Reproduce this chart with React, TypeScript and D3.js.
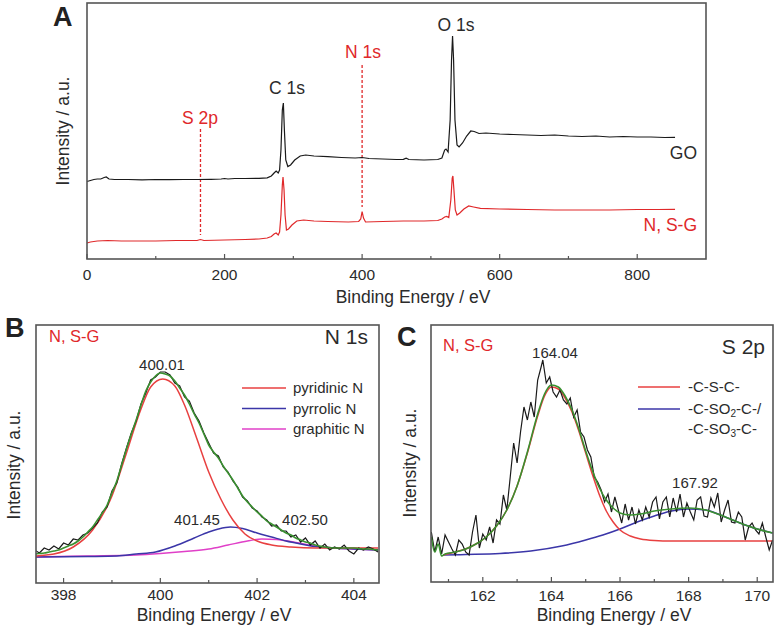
import * as d3 from "d3";

// ---------- Panel A: survey spectra ----------
const goEnergy = [0, 5, 10, 15, 20, 25, 28, 32, 40, 60, 80, 100, 120, 140, 160, 180, 195, 200, 205, 215, 230, 250, 262, 268, 272, 275, 278, 280, 282, 284, 285.5, 287, 289, 292, 296, 302, 310, 318, 330, 350, 370, 390, 400, 410, 430, 450, 460, 464, 468, 490, 510, 516, 520, 522, 525, 528, 530, 531.5, 533, 535, 538, 541, 546, 552, 558, 563, 570, 580, 600, 620, 640, 660, 680, 700, 720, 740, 760, 780, 800, 820, 840, 855];
const goCounts = [77.5, 78.5, 79.5, 80, 80, 81.5, 82, 80, 79.5, 79.5, 79.2, 79.5, 79.4, 79.5, 79.5, 79.7, 80, 80.5, 80, 80.5, 80.5, 80.7, 81.2, 83, 86, 88, 86, 89, 109, 149, 156, 129, 99, 92.5, 94, 99, 103, 104, 103, 102.3, 101.5, 101, 101.5, 100.5, 100, 99.5, 99.6, 100.8, 99.5, 99, 99.5, 101, 109, 110, 107, 139, 199, 223, 199, 139, 114, 112, 116, 123, 128, 127.5, 125.5, 126, 125, 124.5, 124, 123.5, 124, 123, 122.5, 123, 122, 122.5, 122, 122, 121.5, 121.7];

const nsgEnergy = [0, 5, 15, 30, 50, 80, 100, 130, 160, 165, 170, 200, 230, 250, 262, 268, 272, 275, 278, 280, 282, 284, 285, 286.5, 288, 290, 293, 298, 305, 315, 330, 350, 380, 395, 398, 400, 402, 405, 430, 460, 490, 510, 516, 520, 523, 526, 529, 531, 532, 533.5, 535.5, 538, 542, 548, 555, 562, 572, 600, 640, 680, 720, 760, 800, 830, 855];
const nsgCounts = [16, 17, 18, 18.5, 18, 18, 18, 18.5, 18.5, 19.5, 18.5, 19, 19.5, 20, 21, 22.5, 25, 26, 24, 27, 44, 74, 82, 69, 44, 29, 30, 34, 38, 39, 38, 37.5, 37, 37.5, 40, 47.5, 41, 37, 37.5, 38, 38, 38.5, 40, 42, 42.5, 41.5, 59, 81, 83, 69, 49, 44, 46, 50, 53, 52, 50.7, 50, 49.5, 49, 49, 49, 49.5, 49.5, 49.7];

const surveyTicks = [0, 200, 400, 600, 800];
const surveyMinor = [100, 300, 500, 700];

// ---------- Panel B: N 1s ----------
const n1sEnergy = d3.range(0, 72).map((i) => +(397.4 + i * 0.1).toFixed(1));
const n1sData = [33, 30, 35, 33, 37, 34, 40, 38, 44, 43, 48, 50, 55, 60, 71, 76, 92, 100, 119, 135, 150, 162, 179, 190, 203, 206, 211, 211, 208, 200, 197, 186, 182, 170, 162, 150, 140, 130, 127, 116, 111, 102, 96, 86, 82, 75, 72, 66, 63, 57, 58, 52, 52, 46, 48, 41, 45, 38, 42, 35, 39, 33, 36, 34, 38, 32, 29, 35, 33, 36, 34, 31];
const n1sEnvelope = [29, 29.5, 30, 31, 32, 33, 35, 37, 39, 42, 46, 51, 56, 63, 70, 78, 90, 102, 118, 134, 149, 163, 178, 192, 201, 207, 210, 209, 207, 202, 195, 188, 179, 169, 160, 149, 138, 131, 125, 117, 110, 103, 95, 87, 81, 76, 71, 67, 62, 59, 56, 53, 50, 48, 45, 43, 41, 40, 38, 37, 36, 35.5, 35, 35, 35, 35, 35, 34.5, 34, 34, 33.5, 33];

const pyridinicEnergy = [397.4, 397.8, 398.2, 398.6, 399.0, 399.3, 399.6, 399.8, 400.05, 400.3, 400.5, 400.75, 401.0, 401.25, 401.5, 401.75, 402.0, 402.3, 402.7, 403.2, 403.7, 404.5];
const pyridinicFit = [27, 29, 36, 53, 87, 130, 174, 196, 204, 197, 178, 145, 111, 84, 63, 49, 42, 38, 36, 35, 35, 35];
const pyrrolicEnergy = [397.4, 398.5, 399.1, 399.5, 399.9, 400.3, 400.7, 401.0, 401.2, 401.45, 401.7, 402.0, 402.3, 402.6, 402.9, 403.2, 403.6, 404.0, 404.5];
const pyrrolicFit = [26, 26.5, 27, 29, 31, 37, 45, 51, 54, 56, 54.5, 50, 46, 42, 39, 36.5, 35, 34, 33];
const graphiticEnergy = [397.4, 398.5, 399.5, 400.0, 400.5, 401.0, 401.4, 401.8, 402.1, 402.4, 402.8, 403.2, 403.6, 404.0, 404.5];
const graphiticFit = [26, 27, 28, 29.5, 31.5, 34, 38, 42, 44, 43.5, 40.5, 37, 35, 34, 33];

const n1sTicks = [398, 400, 402, 404];
const n1sMinor = [399, 401, 403];

// ---------- Panel C: S 2p ----------
const s2pEnergy = [160.5, 160.6, 160.7, 160.8, 160.9, 161.0, 161.1, 161.2, 161.3, 161.4, 161.5, 161.6, 161.7, 161.8, 161.9, 162.0, 162.1, 162.2, 162.3, 162.4, 162.5, 162.6, 162.7, 162.8, 162.9, 163.0, 163.1, 163.2, 163.3, 163.4, 163.5, 163.6, 163.7, 163.75, 163.85, 163.95, 164.05, 164.15, 164.25, 164.35, 164.45, 164.55, 164.65, 164.75, 164.85, 164.95, 165.05, 165.15, 165.25, 165.35, 165.45, 165.55, 165.65, 165.75, 165.85, 165.95, 166.05, 166.15, 166.25, 166.35, 166.45, 166.55, 166.65, 166.75, 166.85, 166.95, 167.05, 167.15, 167.25, 167.35, 167.45, 167.55, 167.65, 167.75, 167.85, 167.95, 168.05, 168.15, 168.25, 168.35, 168.45, 168.55, 168.65, 168.75, 168.85, 168.95, 169.05, 169.15, 169.25, 169.35, 169.45, 169.55, 169.65, 169.75, 169.85, 169.95, 170.05, 170.15, 170.25, 170.35, 170.45];
const s2pData = [50, 30, 45, 28, 47, 40, 33, 27, 42, 38, 30, 27, 50, 67, 34, 48, 42, 55, 39, 62, 58, 87, 72, 105, 139, 119, 150, 175, 162, 180, 165, 202, 215, 222, 199, 205, 190, 185, 192, 182, 178, 184, 165, 172, 150, 145, 132, 125, 105, 100, 92, 80, 88, 70, 85, 72, 59, 78, 62, 75, 58, 72, 62, 75, 65, 80, 85, 63, 80, 85, 65, 84, 70, 88, 65, 79, 70, 62, 82, 85, 66, 65, 84, 75, 89, 60, 72, 82, 60, 59, 70, 65, 42, 55, 59, 52, 48, 59, 45, 32, 42];

const s2pEnvEnergy = [160.5, 160.6, 160.7, 160.8, 160.9, 161.2, 161.5, 161.8, 162.1, 162.4, 162.7, 163.0, 163.3, 163.6, 163.8, 164.0, 164.2, 164.4, 164.6, 164.8, 165.0, 165.2, 165.4, 165.6, 165.8, 166.0, 166.3, 166.6, 167.0, 167.5, 168.0, 168.5, 169.0, 169.5, 170.0, 170.45];
const s2pEnvelope = [45, 30, 38, 26, 28, 30, 33, 38, 45, 56, 72, 96, 130, 168, 188, 197, 195, 186, 172, 153, 131, 111, 94, 82, 74, 69, 67, 68, 71, 73, 74, 72, 66, 59, 53, 49];

const cscEnergy = [160.85, 161.2, 161.5, 161.8, 162.1, 162.4, 162.7, 163.0, 163.3, 163.6, 163.8, 164.0, 164.2, 164.4, 164.6, 164.8, 165.0, 165.2, 165.4, 165.6, 165.8, 166.0, 166.3, 166.6, 167.0, 167.5, 168.5, 170.45];
const cscFit = [27, 30, 33, 38, 45, 56, 72, 96, 129, 166, 186, 195, 193, 184, 170, 151, 129, 107, 87, 71, 60, 52, 46, 43, 41.5, 41, 41, 41];
const csoEnergy = [160.85, 161.5, 162.5, 163.4, 164.3, 165.0, 165.5, 166.0, 166.5, 167.0, 167.5, 168.0, 168.5, 169.0, 169.5, 170.0, 170.45];
const csoFit = [27, 27.5, 28.5, 31, 36, 42, 47, 53, 60, 66, 71, 73, 72, 66, 59, 53, 49];

const s2pTicks = [162, 164, 166, 168, 170];
const s2pMinor = [161, 163, 165, 167, 169];

// ---------- styling ----------
const FONT = "'Liberation Sans', Arial, Helvetica, sans-serif";
const FRAME = "#555";
const TEXT = "#2b2b2b";
const RED = "#e0282a";
const GREEN = "#3a9030";
const BLUE = "#3b36a8";
const MAGENTA = "#e040c8";
const FIT_RED = "#e84040";

type Box = { left: number; top: number; right: number; bottom: number };

const zip = (xs: number[], ys: number[]): [number, number][] => xs.map((v, i) => [v, ys[i]]);

function Axes(props: {
  box: Box;
  x: d3.ScaleLinear<number, number>;
  major: number[];
  minor: number[];
  labelY: number;
  titleX: number;
  titleY: number;
  yTitleX: number;
  yTitleY: number;
}) {
  const { box, x, major, minor, labelY, titleX, titleY, yTitleX, yTitleY } = props;
  return (
    <g>
      {minor.map((t) => (
        <line key={"m" + t} x1={x(t)} x2={x(t)} y1={box.bottom} y2={box.bottom - 3} stroke={FRAME} strokeWidth={1.2} />
      ))}
      {major.map((t) => (
        <g key={"M" + t}>
          <line x1={x(t)} x2={x(t)} y1={box.bottom} y2={box.bottom - 5} stroke={FRAME} strokeWidth={1.2} />
          <text x={x(t)} y={labelY} textAnchor="middle" fontSize={15.5} fill={TEXT}>{t}</text>
        </g>
      ))}
      <rect x={box.left} y={box.top} width={box.right - box.left} height={box.bottom - box.top} fill="none" stroke={FRAME} strokeWidth={1.6} />
      <text x={titleX} y={titleY} textAnchor="middle" fontSize={17.5} fill={TEXT}>Binding Energy / eV</text>
      <text transform={`translate(${yTitleX},${yTitleY}) rotate(-90)`} y={6.3} textAnchor="middle" fontSize={17.5} fill={TEXT}>Intensity / a.u.</text>
    </g>
  );
}

export default function App() {
  // Panel A
  const boxA: Box = { left: 87, top: 3, right: 706, bottom: 259 };
  const xA = d3.scaleLinear().domain([0, 900]).range([boxA.left, boxA.right]);
  const yA = d3.scaleLinear().domain([0, 256]).range([boxA.bottom, boxA.top]);
  const lineA = d3.line<[number, number]>().x((d) => xA(d[0])).y((d) => yA(d[1]));

  // Panel B
  const boxB: Box = { left: 36, top: 325, right: 379, bottom: 583 };
  const xB = d3.scaleLinear().domain([397.43, 404.52]).range([boxB.left, boxB.right]);
  const yB = d3.scaleLinear().domain([0, 258]).range([boxB.bottom, boxB.top]);
  const rawB = d3.line<[number, number]>().x((d) => xB(d[0])).y((d) => yB(d[1]));
  const fitB = d3.line<[number, number]>().x((d) => xB(d[0])).y((d) => yB(d[1])).curve(d3.curveMonotoneX);

  // Panel C
  const boxC: Box = { left: 431, top: 325, right: 773, bottom: 582 };
  const xC = d3.scaleLinear().domain([160.49, 170.46]).range([boxC.left, boxC.right]);
  const yC = d3.scaleLinear().domain([0, 257]).range([boxC.bottom, boxC.top]);
  const rawC = d3.line<[number, number]>().x((d) => xC(d[0])).y((d) => yC(d[1]));
  const fitC = d3.line<[number, number]>().x((d) => xC(d[0])).y((d) => yC(d[1])).curve(d3.curveMonotoneX);

  return (
    <svg
      width={779}
      height={636}
      viewBox="0 0 779 636"
      style={{ position: "absolute", left: 0, top: 0, background: "#fff" }}
      fontFamily={FONT}
    >
      <defs>
        <clipPath id="clipB"><rect x={boxB.left} y={boxB.top} width={boxB.right - boxB.left} height={boxB.bottom - boxB.top} /></clipPath>
        <clipPath id="clipC"><rect x={boxC.left} y={boxC.top} width={boxC.right - boxC.left} height={boxC.bottom - boxC.top} /></clipPath>
      </defs>

      {/* ---- A ---- */}
      <text x={53} y={26} fontSize={27} fontWeight="bold" fill="#222">A</text>
      <line x1={xA(165)} x2={xA(165)} y1={yA(130)} y2={yA(24)} stroke={RED} strokeWidth={1.3} strokeDasharray="3,2" />
      <line x1={xA(400)} x2={xA(400)} y1={yA(194)} y2={yA(52)} stroke={RED} strokeWidth={1.3} strokeDasharray="3,2" />
      <path d={lineA(zip(goEnergy, goCounts)) || ""} fill="none" stroke="#1a1a1a" strokeWidth={1.2} />
      <path d={lineA(zip(nsgEnergy, nsgCounts)) || ""} fill="none" stroke={RED} strokeWidth={1.2} />
      <Axes box={boxA} x={xA} major={surveyTicks} minor={surveyMinor} labelY={279.5} titleX={413} titleY={302.5} yTitleX={63} yTitleY={131} />
      <text x={287} y={94} textAnchor="middle" fontSize={17.5} fill={TEXT}>C 1s</text>
      <text x={456} y={31} textAnchor="middle" fontSize={17.5} fill={TEXT}>O 1s</text>
      <text x={363} y={58} textAnchor="middle" fontSize={17.5} fill={RED}>N 1s</text>
      <text x={200} y={124} textAnchor="middle" fontSize={17.5} fill={RED}>S 2p</text>
      <text x={697} y={159} textAnchor="end" fontSize={17.5} fill={TEXT}>GO</text>
      <text x={697} y={231} textAnchor="end" fontSize={17.5} fill={RED}>N, S-G</text>

      {/* ---- B ---- */}
      <text x={5} y={337} fontSize={27} fontWeight="bold" fill="#222">B</text>
      <g clipPath="url(#clipB)">
        <path d={fitB(zip(graphiticEnergy, graphiticFit)) || ""} fill="none" stroke={MAGENTA} strokeWidth={1.5} />
        <path d={fitB(zip(pyrrolicEnergy, pyrrolicFit)) || ""} fill="none" stroke={BLUE} strokeWidth={1.5} />
        <path d={fitB(zip(pyridinicEnergy, pyridinicFit)) || ""} fill="none" stroke={FIT_RED} strokeWidth={1.5} />
        <path d={rawB(zip(n1sEnergy, n1sData)) || ""} fill="none" stroke="#1a1a1a" strokeWidth={1.2} />
        <path d={fitB(zip(n1sEnergy, n1sEnvelope)) || ""} fill="none" stroke={GREEN} strokeWidth={1.6} />
      </g>
      <Axes box={boxB} x={xB} major={n1sTicks} minor={n1sMinor} labelY={600} titleX={214} titleY={621} yTitleX={14} yTitleY={465} />
      <text x={49} y={342} fontSize={16.5} fill={RED}>N, S-G</text>
      <text x={368} y={343.5} textAnchor="end" fontSize={21} fill={TEXT}>N 1s</text>
      <text x={162} y={369.5} textAnchor="middle" fontSize={15} fill={TEXT}>400.01</text>
      <text x={197} y={525} textAnchor="middle" fontSize={15} fill={TEXT}>401.45</text>
      <text x={305} y={525} textAnchor="middle" fontSize={15} fill={TEXT}>402.50</text>
      {[
        { label: "pyridinic N", color: FIT_RED },
        { label: "pyrrolic N", color: BLUE },
        { label: "graphitic N", color: MAGENTA },
      ].map((d, i) => (
        <g key={d.label} transform={`translate(0,${388 + i * 20.5})`}>
          <line x1={242} x2={286} y1={0} y2={0} stroke={d.color} strokeWidth={1.6} />
          <text x={293} y={5} fontSize={15} fill={TEXT}>{d.label}</text>
        </g>
      ))}

      {/* ---- C ---- */}
      <text x={397} y={346} fontSize={27} fontWeight="bold" fill="#222">C</text>
      <g clipPath="url(#clipC)">
        <path d={fitC(zip(csoEnergy, csoFit)) || ""} fill="none" stroke={BLUE} strokeWidth={1.5} />
        <path d={fitC(zip(cscEnergy, cscFit)) || ""} fill="none" stroke={FIT_RED} strokeWidth={1.5} />
        <path d={rawC(zip(s2pEnergy, s2pData)) || ""} fill="none" stroke="#1a1a1a" strokeWidth={1.2} />
        <path d={fitC(zip(s2pEnvEnergy, s2pEnvelope)) || ""} fill="none" stroke={GREEN} strokeWidth={1.6} />
      </g>
      <Axes box={boxC} x={xC} major={s2pTicks} minor={s2pMinor} labelY={600.5} titleX={614} titleY={621} yTitleX={410} yTitleY={463} />
      <text x={443} y={351} fontSize={16.5} fill={RED}>N, S-G</text>
      <text x={765} y={353.5} textAnchor="end" fontSize={21} fill={TEXT}>S 2p</text>
      <text x={555} y={357.5} textAnchor="middle" fontSize={15} fill={TEXT}>164.04</text>
      <text x={695} y={487.5} textAnchor="middle" fontSize={15} fill={TEXT}>167.92</text>
      <line x1={638} x2={680} y1={387} y2={387} stroke={FIT_RED} strokeWidth={1.6} />
      <text x={688} y={392} fontSize={15} fill={TEXT}>-C-S-C-</text>
      <line x1={638} x2={680} y1={409} y2={409} stroke={BLUE} strokeWidth={1.6} />
      <text x={688} y={414} fontSize={15} fill={TEXT}>
        -C-SO<tspan fontSize={10} dy={3}>2</tspan><tspan dy={-3}>-C-/</tspan>
      </text>
      <text x={688} y={433.5} fontSize={15} fill={TEXT}>
        -C-SO<tspan fontSize={10} dy={3}>3</tspan><tspan dy={-3}>-C-</tspan>
      </text>
    </svg>
  );
}
